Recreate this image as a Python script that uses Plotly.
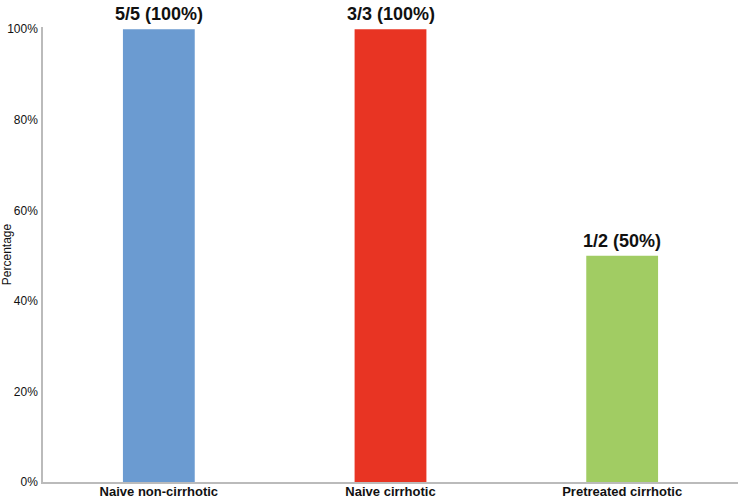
import plotly.graph_objects as go

categories = ["Naive non-cirrhotic", "Naive cirrhotic", "Pretreated cirrhotic"]
values = [100, 100, 50]
labels = ["5/5 (100%)", "3/3 (100%)", "1/2 (50%)"]
colors = ["#6B9BD1", "#E83423", "#A1CC63"]
y_ticks = [0, 20, 40, 60, 80, 100]
y_ticklabels = ["0%", "20%", "40%", "60%", "80%", "100%"]

fig = go.Figure(go.Bar(
    x=categories, y=values, marker=dict(color=colors, line=dict(width=0)),
    width=0.31, cliponaxis=False, hoverinfo="x+y",
))

for c, v, t in zip(categories, values, labels):
    fig.add_annotation(
        x=c, y=v, text=t, showarrow=False, yanchor="bottom", yshift=4,
        borderpad=0,
        font=dict(family="Liberation Sans", size=18, color="#111111", weight="bold"),
    )

fig.update_layout(
    width=738, height=499,
    margin=dict(l=43, r=0, t=27, b=17),
    plot_bgcolor="white", paper_bgcolor="white",
    showlegend=False,
    font=dict(family="Liberation Sans", color="#111111"),
)
fig.update_xaxes(
    showline=True, linecolor="#BBBBBB", linewidth=1.5, ticks="",
    tickfont=dict(size=13, weight="bold"), showgrid=False, automargin=False,
    range=[-0.5, 2.5], ticklabelstandoff=-3,
)
fig.update_yaxes(
    range=[0, 100.5], tickvals=y_ticks, ticktext=y_ticklabels,
    showline=True, linecolor="#BBBBBB", linewidth=1.5, ticks="", showgrid=False,
    zeroline=False, tickfont=dict(size=12), ticklabelstandoff=1, automargin=False,
    title=dict(text="Percentage", font=dict(size=12), standoff=6),
)
fig.write_html("out.html", config={"displayModeBar": False},
               post_script="document.body.style.margin='0';")
